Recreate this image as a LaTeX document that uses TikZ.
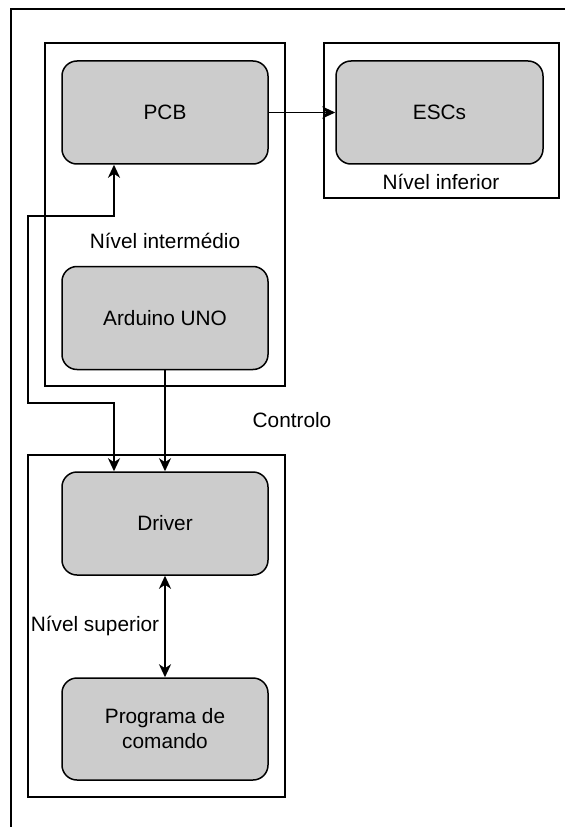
\documentclass[tikz,border=0pt]{standalone}
\usepackage{fontspec}
\setmainfont{Liberation Sans}
\usetikzlibrary{arrows.meta}
\begin{document}
\begin{tikzpicture}[x=0.75pt,y=-0.75pt,
  box/.style={draw=black,line width=1.5*0.75pt,fill=black!20,rounded corners=15*0.75pt,
    minimum width=206*0.75pt,minimum height=103*0.75pt,inner sep=0pt,align=center,font=\fontsize{15.6pt}{18.7pt}\selectfont},
  container/.style={draw=black,line width=1.3*0.75pt,inner sep=0pt},
  lbl/.style={inner sep=0pt,font=\fontsize{15.6pt}{18.7pt}\selectfont},
  tip/.tip={Stealth[length=13*0.75pt,width=12*0.75pt,inset=4*0.75pt]},
  thin/.style={draw=black,line width=1.4*0.75pt,-tip},
  thick/.style={draw=black,line width=2.2*0.75pt}
]
\useasboundingbox (0,0) rectangle (564,827);
% outer frame (partially visible)
\draw[line width=1.3*0.75pt] (11,840) -- (11,9) -- (580,9);
% containers
\node[container,minimum width=240*0.75pt,minimum height=343*0.75pt] (mid) at (165,214.5) {};
\node[container,minimum width=235*0.75pt,minimum height=155*0.75pt] (inf) at (441.5,120.5) {};
\node[container,minimum width=257*0.75pt,minimum height=342*0.75pt] (sup) at (156.5,626) {};
% nodes
\node[box] (pcb) at (165,112.5) {PCB};
\node[box] (ard) at (165,318) {Arduino UNO};
\node[box,minimum width=207*0.75pt] (esc) at (439.5,112.5) {ESCs};
\node[box] (drv) at (165,523.5) {Driver};
\node[box,minimum height=102*0.75pt] (prog) at (165,729) {Programa de\\comando};
% labels
\node[lbl] (lmid) at (165,241) {Nível intermédio};
\node[lbl] (linf) at (441,182) {Nível inferior};
\node[lbl] (lctl) at (292,420) {Controlo};
\node[lbl] (lsup) at (95,626) {Nível superior};
% connectors
\draw[thin] (pcb.east) -- (esc.west);
\draw[thin] (ard.south) -- (drv.north);
\coordinate (c1) at (114,216);
\coordinate (c2) at (28,216);
\coordinate (c3) at (28,403);
\coordinate (c4) at (114,403);
\draw[thick,tip-tip] (pcb.south -| c1) -- (c1) -- (c2) -- (c3) -- (c4) -- (drv.north -| c4);
\draw[thick,tip-tip] (drv.south) -- (prog.north);
\end{tikzpicture}
\end{document}
